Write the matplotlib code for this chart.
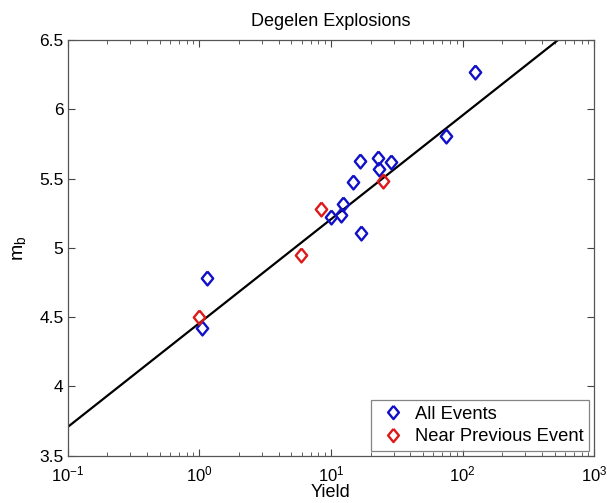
import numpy as np
import matplotlib
matplotlib.use('Agg')
import matplotlib.pyplot as plt
from matplotlib.ticker import LogLocator, NullFormatter

plt.rcParams['font.family'] = ['Liberation Sans', 'DejaVu Sans']

# yields (kt) and body-wave magnitudes
all_yield = [125, 74.5, 16.7, 22.8, 23.2, 28.6, 14.7, 12.4, 10.0, 12.0, 16.8, 1.15, 1.04]
all_mb = [6.27, 5.81, 5.63, 5.65, 5.57, 5.62, 5.475, 5.32, 5.225, 5.24, 5.11, 4.785, 4.42]
near_yield = [0.99, 5.9, 8.38, 24.8]
near_mb = [4.50, 4.95, 5.28, 5.485]

# fitted line mb = a + b*log10(Y)
fit_a = 4.457
fit_b = 0.75

# matlab-style diamond, a bit taller than wide
dmd = [(0, 1), (0.82, 0), (0, -1), (-0.82, 0), (0, 1)]

fig = plt.figure(figsize=(6.07, 5.03), dpi=100)
ax = fig.add_axes([0.1115, 0.094, 0.8676, 0.8264])

yy = np.logspace(-1, 3, 200)
ax.plot(yy, fit_a + fit_b*np.log10(yy), color='k', lw=1.6)

ax.plot(all_yield, all_mb, marker=dmd, mfc='none', mec='#1010c8', mew=1.7, ms=10,
        ls='none', label='All Events')
ax.plot(near_yield, near_mb, marker=dmd, mfc='none', mec='#dd1a1a', mew=1.7, ms=10,
        ls='none', label='Near Previous Event')

ax.set_xscale('log')
ax.set_xlim(0.1, 1000)
ax.set_ylim(3.5, 6.5)
ax.set_yticks(np.arange(3.5, 6.51, 0.5))
ax.set_yticklabels(['3.5', '4', '4.5', '5', '5.5', '6', '6.5'])
ax.xaxis.set_minor_locator(LogLocator(base=10, subs=np.arange(2, 10), numticks=20))
ax.xaxis.set_minor_formatter(NullFormatter())

ax.tick_params(which='both', direction='in', top=True, right=True,
               color='#444444')
ax.tick_params(which='major', length=5)
ax.tick_params(which='minor', length=3)
ax.tick_params(axis='x', pad=6, labelsize=12)
ax.tick_params(axis='y', pad=3, labelsize=12.5)
for s in ax.spines.values():
    s.set_color('#555555')
    s.set_linewidth(0.9)

ax.set_title('Degelen Explosions', fontsize=13, pad=10)
ax.set_xlabel('Yield', fontsize=13, labelpad=0)
ax.set_ylabel('m$_\\mathregular{b}$', fontsize=14, labelpad=7)

leg = ax.legend(loc='lower right', fontsize=13.2, fancybox=False,
                edgecolor='#666666', borderaxespad=0.27, handletextpad=0.31,
                handlelength=1.82, borderpad=0.3, labelspacing=0.3,
                markerscale=0.95)
leg.get_frame().set_linewidth(0.9)

fig.savefig('out.png', dpi=100)
